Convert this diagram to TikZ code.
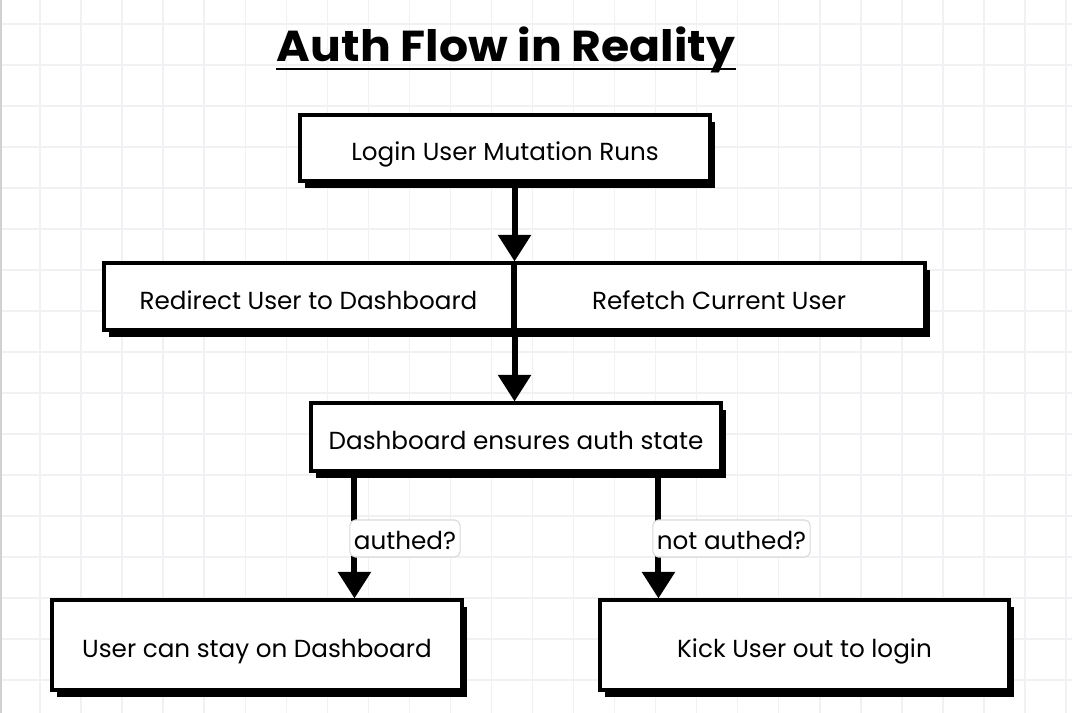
\documentclass[tikz,border=0pt]{standalone}
\usepackage{fontspec}
\setmainfont{Poppins}
\usetikzlibrary{arrows.meta,shadows,calc}
\definecolor{gridc}{HTML}{F1F1F4}
\definecolor{labc}{HTML}{D9D9D9}
\begin{document}
\begin{tikzpicture}[x=0.75pt,y=-0.75pt,
  gridline/.style={draw=gridc, line width=1.1pt},
  box/.style={draw=black, line width=2.3pt, fill=white, inner sep=0pt,
    font=\fontsize{18.5pt}{22pt}\selectfont, text height=18.8pt, text depth=0pt,
    drop shadow={shadow xshift=3.6pt, shadow yshift=-5pt, fill=black, opacity=1}},
  arr/.style={draw=black, line width=4.5pt, -{Triangle[length=20pt,width=24pt]}},
  divider/.style={draw=black, line width=4.2pt},
  lab/.style={draw=labc, line width=0.8pt, fill=white, rounded corners=4pt,
    inner xsep=3pt, inner ysep=0pt, minimum height=27.75pt,
    text height=16pt, text depth=0pt,
    font=\fontsize{18.5pt}{22pt}\selectfont}
]
\useasboundingbox (0,0) rectangle (1072,713);
\fill[white] (0,0) rectangle (1072,713);
% grid
\foreach \i in {1,...,26} \draw[gridline] ({-1+41.04*\i},0) -- ({-1+41.04*\i},713);
\foreach \j in {0,...,16} \draw[gridline] (0,{24+41*\j}) -- (1072,{24+41*\j});
\draw[draw=black!18, line width=1.2pt] (1,0) -- (1,713);

% title
\node[inner sep=0pt, anchor=base] (title) at (506,62)
  {\resizebox{343.5pt}{26pt}{\bfseries Auth Flow in Reality}};
\draw[line width=1.6pt] ($(title.base west)+(-1,7)$) -- ($(title.base east)+(1,7)$);

% boxes
\node[box, minimum width=307.5pt, minimum height=49.5pt] (login) at (505,148) {Login User Mutation Runs};
\node[box, minimum width=306.75pt, minimum height=50.25pt] (redir) at (308.5,296.5) {Redirect User to Dashboard};
\node[box, minimum width=309pt, minimum height=50.25pt] (refetch) at (719,296.5) {Refetch Current User};
\node[box, minimum width=307.5pt, minimum height=51pt] (dash) at (516,437) {Dashboard ensures auth state};
\node[box, minimum width=307.5pt, minimum height=67.5pt] (stay) at (257,645) {User can stay on Dashboard};
\node[box, minimum width=306.75pt, minimum height=67.5pt] (kick) at (804.5,645) {Kick User out to login};

% divider between the two halves
\draw[divider] (redir.north east) -- (redir.south east);

% connectors
\draw[arr] (login.south -| redir.north east) -- (redir.north east);
\draw[arr] (redir.south east) -- (dash.north -| redir.south east);
\coordinate (c3) at ([xshift=33.75pt]dash.south west);
\coordinate (c4) at ([xshift=261.75pt]dash.south west);
\draw[arr] (c3) -- (c3 |- stay.north);
\draw[arr] (c4) -- (c4 |- kick.north);

% labels
\node[lab] (l1) at (405,538.5) {authed?};
\node[lab] (l2) at (731.5,538.5) {not authed?};
\end{tikzpicture}
\end{document}
